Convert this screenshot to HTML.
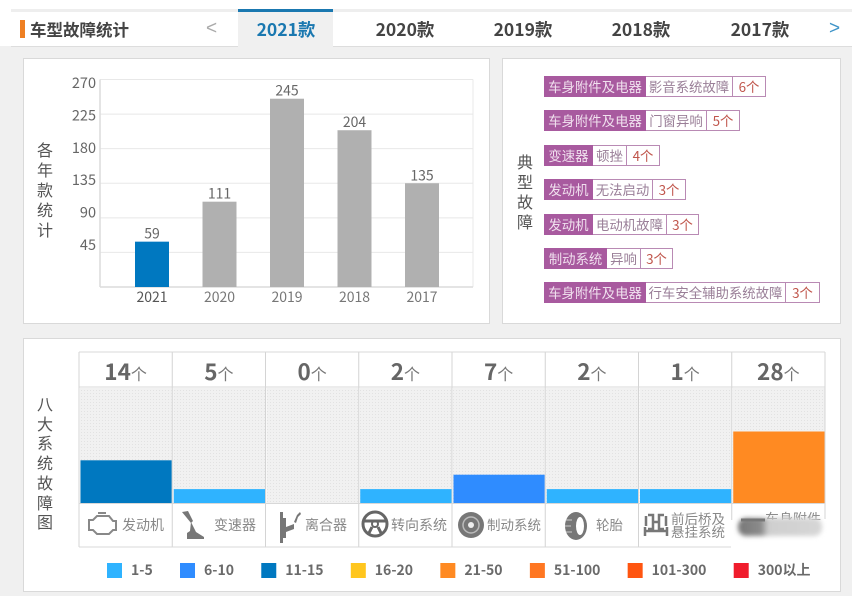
<!DOCTYPE html>
<html lang="zh">
<head>
<meta charset="utf-8">
<title>车型故障统计</title>
<style>
html,body{margin:0;padding:0}
body{width:852px;height:596px;position:relative;overflow:hidden;background:#f0f0f0;font-family:"Liberation Sans","Noto Sans CJK SC",sans-serif;color:#444}
.abs{position:absolute}
#top-white{left:0;top:0;width:852px;height:46px;background:#fff}
#top-band{left:11px;top:9px;width:841px;height:3px;background:#eeeeee}
#tab-line{left:11px;top:46px;width:841px;height:1px;background:#dddddd}
#title-mark{left:20px;top:20px;width:5px;height:18px;background:#ee7f22}
#title{left:30px;top:17px;font:bold 16.5px/24px "Noto Sans CJK SC",sans-serif;color:#444;white-space:nowrap}
.tab{top:17px;width:100px;text-align:center;font:bold 17.5px/26px "Noto Sans CJK SC",sans-serif;color:#444;white-space:nowrap}
#tab-active{left:238px;top:9px;width:95px;height:38px;background:#f0f0f0;border-top:3px solid #1a78b0;box-sizing:border-box}
.arrow{top:17px;font:19px/24px "Liberation Sans",sans-serif}
.panel{background:#fff;border:1px solid #d9d9d9;box-sizing:border-box}
.vtitle{width:20px;text-align:center;font:16px/19.9px "Noto Sans CJK SC",sans-serif;color:#555}
.tag{left:544px;height:21px;display:flex;box-sizing:border-box;border:1px solid #b98ab4;font:13.4px/19px "Noto Sans CJK SC",sans-serif;white-space:nowrap;background:#fff}
.tag span{display:block;text-align:center;overflow:hidden;box-sizing:border-box}
.tag .sys{background:#a85a9f;color:#f0e0ee;margin:-1px 0 -1px -1px;line-height:21px}
.tag .name{color:#9a7f98;border-right:1px solid #b98ab4}
.tag .cnt{color:#c0564c}
svg text{font-family:"Noto Sans CJK SC",sans-serif}
</style>
</head>
<body>
<div class="abs" id="top-white"></div>
<div class="abs" id="top-band"></div>
<div class="abs" id="tab-line"></div>
<div class="abs" id="title-mark"></div>
<div class="abs" id="title">车型故障统计</div>
<div class="abs arrow" style="left:206px;color:#aaa">&lt;</div>
<div class="abs" id="tab-active"></div>
<div class="abs tab" style="left:236px;color:#1a78b0">2021款</div>
<div class="abs tab" style="left:355px">2020款</div>
<div class="abs tab" style="left:473px">2019款</div>
<div class="abs tab" style="left:591px">2018款</div>
<div class="abs tab" style="left:710px">2017款</div>
<div class="abs arrow" style="left:829px;color:#3f94c8">&gt;</div>

<div class="abs panel" style="left:23px;top:58px;width:467px;height:266px"></div>
<div class="abs panel" style="left:502px;top:58px;width:339px;height:266px"></div>
<div class="abs panel" style="left:23px;top:338px;width:818px;height:254px"></div>

<div class="abs vtitle" style="left:35px;top:140px">各<br>年<br>款<br>统<br>计</div>
<div class="abs vtitle" style="left:515px;top:152px">典<br>型<br>故<br>障</div>
<div class="abs vtitle" style="left:35px;top:394px;line-height:19.7px">八<br>大<br>系<br>统<br>故<br>障<br>图</div>

<div class="abs tag" style="top:76px;width:222px"><span class="sys" style="width:102px">车身附件及电器</span><span class="name" style="width:87px">影音系统故障</span><span class="cnt" style="width:32px">6个</span></div>
<div class="abs tag" style="top:110px;width:196px"><span class="sys" style="width:102px">车身附件及电器</span><span class="name" style="width:61px">门窗异响</span><span class="cnt" style="width:32px">5个</span></div>
<div class="abs tag" style="top:145px;width:116px"><span class="sys" style="width:49px">变速器</span><span class="name" style="width:34px">顿挫</span><span class="cnt" style="width:32px">4个</span></div>
<div class="abs tag" style="top:179px;width:142px"><span class="sys" style="width:49px">发动机</span><span class="name" style="width:60px">无法启动</span><span class="cnt" style="width:32px">3个</span></div>
<div class="abs tag" style="top:214px;width:155px"><span class="sys" style="width:49px">发动机</span><span class="name" style="width:74px">电动机故障</span><span class="cnt" style="width:31px">3个</span></div>
<div class="abs tag" style="top:248px;width:129px"><span class="sys" style="width:63px">制动系统</span><span class="name" style="width:34px">异响</span><span class="cnt" style="width:31px">3个</span></div>
<div class="abs tag" style="top:282px;width:276px"><span class="sys" style="width:102px">车身附件及电器</span><span class="name" style="width:140px">行车安全辅助系统故障</span><span class="cnt" style="width:33px">3个</span></div>

<svg id="charts" class="abs" style="left:0;top:0" width="852" height="596" viewBox="0 0 852 596">
  <defs>
    <pattern id="dots" width="3" height="3" patternUnits="userSpaceOnUse">
      <rect width="3" height="3" fill="#f1f1f1"/>
      <rect width="1" height="1" fill="#e2e2e2"/>
    </pattern>
    <filter id="soft" x="-20%" y="-50%" width="140%" height="200%"><feGaussianBlur stdDeviation="2.5"/></filter>
    <linearGradient id="blob-fade" x1="0" x2="1" y1="0" y2="0">
      <stop offset="0" stop-color="#777"/>
      <stop offset="0.28" stop-color="#8c8c8c"/>
      <stop offset="0.36" stop-color="#cfcfcf"/>
      <stop offset="1" stop-color="#d6d6d6"/>
    </linearGradient>
  </defs>
  <g id="yearly-chart"></g>
  <g id="system-chart"></g>
  <g id="system-footer" fill="#888" font-size="14">
    <g fill="none" stroke="#888" stroke-width="2">
      <path d="M89 527v-7h4l4-4h12l4 5h3v9h-3l-4 4H97l-4-4h-4z"/><path d="M98 513h8"/>
    </g>
    <text x="122" y="530">发动机</text>
    <g fill="#777">
      <path d="M182 512l6-1 5 10-2 2z"/><path d="M191 522l5 10 8 5v2h-17v-6l3-2z"/>
    </g>
    <text x="214" y="530">变速器</text>
    <g fill="#777">
      <rect x="280" y="512" width="3" height="31"/><rect x="283" y="518" width="3" height="20"/><path d="M286 527l8-3v5l-8 3z"/><path d="M294 522l3-7 3-3 1 2-3 3-2 6z"/>
    </g>
    <text x="305" y="530">离合器</text>
    <g fill="none" stroke="#666">
      <circle cx="375" cy="524" r="12" stroke-width="3"/><circle cx="375" cy="524" r="3" stroke-width="2"/><path d="M364 521h22M372 527l-4 8M378 527l4 8" stroke-width="3"/>
    </g>
    <text x="391" y="530">转向系统</text>
    <g>
      <circle cx="471" cy="525" r="13" fill="#777"/><circle cx="471" cy="525" r="8" fill="none" stroke="#bbb" stroke-width="1.5"/><circle cx="471" cy="525" r="3" fill="#eee"/>
    </g>
    <text x="487" y="530" font-size="13.5">制动系统</text>
    <g>
      <ellipse cx="576" cy="526" rx="11" ry="14" fill="#777"/><ellipse cx="580" cy="526" rx="4" ry="9" fill="#fff"/><path d="M566 520h6M565 526h6M566 532h6" stroke="#ccc" stroke-width="1"/>
    </g>
    <text x="596" y="530" font-size="13.5">轮胎</text>
    <g fill="none" stroke="#777" stroke-width="2.5">
      <path d="M648 515h5v14h-5M664 515h-5v14h5M653 522h6M646 516v10M666 516v10M645 531h22M645 527v9M667 527v9"/>
    </g>
    <text x="671" y="524" font-size="13.5">前后桥及</text>
    <text x="671" y="537" font-size="13.5">悬挂系统</text>
    <text x="765" y="524">车身附件</text>
    <rect x="731" y="520" width="100" height="34" fill="#fff"/>
    <rect x="738" y="518" width="84" height="18" rx="8" fill="url(#blob-fade)" filter="url(#soft)"/>
    <path d="M741 520h24" stroke="#777" stroke-width="3"/>
  </g>
  <g id="legend"></g>
</svg>

<script>
var years = ['2021', '2020', '2019', '2018', '2017'];
var yearCounts = [59, 111, 245, 204, 135];
var yearTicks = [45, 90, 135, 180, 225, 270];
var systems = ['engine', 'transmission', 'clutch', 'steering', 'brake', 'tyre', 'axle', 'body'];
var systemCounts = [14, 5, 0, 2, 7, 2, 1, 28];
var rangeLabels = ['1-5', '6-10', '11-15', '16-20', '21-50', '51-100', '101-300', '300以上'];
var rangeUpper = [5, 10, 15, 20, 50, 100, 300, 100000];
var rangeColors = ['#2fb3ff', '#2f8cff', '#0078c0', '#ffc61e', '#ff8a22', '#ff7722', '#ff5510', '#f01c2c'];

var NS = 'http://www.w3.org/2000/svg';
function mk(parent, tag, attrs, text) {
  var el = document.createElementNS(NS, tag);
  for (var k in attrs) { el.setAttribute(k, attrs[k]); }
  if (text !== undefined) { el.textContent = text; }
  parent.appendChild(el);
  return el;
}

/* yearly chart axes */
function yScale(v) { return 287 - v * (207.5 / 270); }
function xCenter(i) { return 152 + i * 67.5; }
function yTickLabelY(t) { return 88 + (270 - t) * 0.72; }
var yearly = document.getElementById('yearly-chart');
yearTicks.forEach(function (t) {
  var g = mk(yearly, 'line', {x1: 100, x2: 473, y1: yScale(t), y2: yScale(t), stroke: '#e8e8e8', 'stroke-width': 1});
  
  
  var l = mk(yearly, 'text', {x: 96, y: yTickLabelY(t), 'text-anchor': 'end', 'font-size': 14.5, fill: '#666'}, String(t));
  
  
});
var rightEdge = mk(yearly, 'line', {x1: 473, x2: 473, y1: yScale(270), y2: yScale(0), stroke: '#e8e8e8', 'stroke-width': 1});


var yAxis = mk(yearly, 'line', {x1: 100, x2: 100, y1: yScale(270), y2: yScale(0), stroke: '#dcdcdc', 'stroke-width': 1.5});


var xAxis = mk(yearly, 'line', {x1: 100, x2: 473, y1: yScale(0), y2: yScale(0), stroke: '#dcdcdc', 'stroke-width': 1.5});


years.forEach(function (y, i) {
  var top = yScale(yearCounts[i]);
  var bar = mk(yearly, 'rect', {x: xCenter(i) - 17, y: top, width: 34, height: yScale(0) - top, fill: i === 0 ? '#0078c0' : '#b0b0b0'});
  
  
  var v = mk(yearly, 'text', {x: xCenter(i), y: top - 3, 'text-anchor': 'middle', 'font-size': 14, fill: '#666'}, String(yearCounts[i]));
  
  
  var c = mk(yearly, 'text', {x: xCenter(i), y: 302, 'text-anchor': 'middle', 'font-size': 14, fill: i === 0 ? '#555' : '#777'}, y);
  
  
});

/* system chart axes */
function colX(i) { return 79 + i * 93.25; }
function rangeLevel(v) {
  if (v <= 0) { return 0; }
  for (var i = 0; i < rangeUpper.length; i++) { if (v <= rangeUpper[i]) { return i + 1; } }
  return rangeUpper.length;
}
function levelHeight(level) { return level * 14.4; }
var sys = document.getElementById('system-chart');
systems.forEach(function (name, i) {
  var x = colX(i);
  var bg = mk(sys, 'rect', {x: x + 1, y: 388, width: 91.75, height: 115.5, fill: 'url(#dots)'});
  
  
  var level = rangeLevel(systemCounts[i]);
  if (level > 0) {
    var h = levelHeight(level);
    var bar = mk(sys, 'rect', {x: x + 1.5, y: 503.5 - h, width: 91.25, height: h, fill: rangeColors[level - 1]});
    
    
  }
  var label = mk(sys, 'text', {x: x + 46.6, y: 380, 'text-anchor': 'middle', fill: '#666'});
  
  
  mk(label, 'tspan', {'font-size': 22.5, 'font-weight': 'bold'}, String(systemCounts[i]));
  mk(label, 'tspan', {'font-size': 16, fill: '#777'}, '个');
});
for (var n = 0; n <= systems.length; n++) {
  var bottom = n === systems.length ? 519 : (n === systems.length - 1 ? 520 : 547);
  var div = mk(sys, 'line', {x1: colX(n), x2: colX(n), y1: 352, y2: bottom, stroke: '#d4d4d4', 'stroke-width': 1});
  
  
}
[352, 387, 503.5].forEach(function (y) {
  var line = mk(sys, 'line', {x1: colX(0), x2: colX(8), y1: y, y2: y, stroke: '#d8d8d8', 'stroke-width': 1});
  
  
});
var baseLine = mk(sys, 'line', {x1: colX(0), x2: colX(7), y1: 547, y2: 547, stroke: '#d8d8d8', 'stroke-width': 1});



/* legend: each entry follows the measured width of the previous label */
var legend = document.getElementById('legend');
var legendCursor = 107;
rangeLabels.forEach(function (label, i) {
  var sw = mk(legend, 'rect', {x: legendCursor, y: 563, width: 15, height: 15, fill: rangeColors[i]});
  
  
  var t = mk(legend, 'text', {x: legendCursor + 24, y: 575, 'font-size': 14, 'font-weight': 'bold', fill: '#6a6a6a'}, label);
  
  
  legendCursor += 24 + t.getComputedTextLength() + 27.3;
});
</script>
</body>
</html>
